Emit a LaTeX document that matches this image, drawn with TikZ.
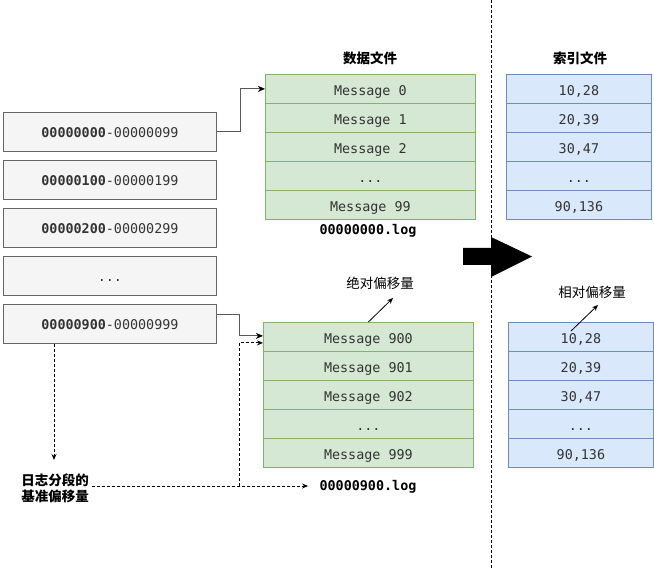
\documentclass[tikz,border=0pt]{standalone}
\usepackage{fontspec}
\setmonofont{DejaVu Sans Mono}
\newfontfamily\cjk{Noto Sans CJK SC}
\usepackage{xcolor}
\usetikzlibrary{arrows.meta,calc,positioning}
\definecolor{segfill}{HTML}{F5F5F5}
\definecolor{segdraw}{HTML}{666666}
\definecolor{grnfill}{HTML}{D5E8D4}
\definecolor{grndraw}{HTML}{82B366}
\definecolor{blufill}{HTML}{DAE8FC}
\definecolor{bludraw}{HTML}{6C8EBF}
\definecolor{txtgray}{HTML}{333333}
\newcommand\monofnt{\ttfamily\fontsize{13.4}{16}\selectfont}
\newcommand\cjkfnt{\cjk\fontsize{13.5}{17}\selectfont}
\newcommand\rowdots{...}

\begin{document}
\begin{tikzpicture}[x=1pt, y=-1pt,
	seg/.style={draw=segdraw, fill=segfill, line width=0.9pt, inner sep=0pt, text height=12pt, text depth=0pt, minimum width=213pt, minimum height=39pt, anchor=north west, text=txtgray, font=\monofnt},
	datarow/.style={draw=grndraw, fill=grnfill, line width=0.8pt, inner sep=0pt, text height=12.5pt, text depth=0pt, minimum width=210pt, minimum height=29pt, anchor=north west, text=txtgray, font=\monofnt},
	idxrow/.style={draw=bludraw, fill=blufill, line width=0.8pt, inner sep=0pt, text height=12.5pt, text depth=0pt, minimum width=145pt, minimum height=29pt, anchor=north west, text=txtgray, font=\monofnt},
	conn/.style={draw=black!65, line width=1.1pt, -{Stealth[length=7pt, width=6pt, inset=2pt, black]}},
	dconn/.style={black, line width=0.8pt, dash pattern=on 3pt off 2pt, -{Stealth[length=6pt, width=5pt, inset=2pt]}},
	lbl/.style={font=\cjkfnt, text=black}]
	\useasboundingbox (0,0) rectangle (654,569);
	%%%%% divider and big arrow
	\draw[black, line width=0.9pt, dash pattern=on 3pt off 2pt] (491,0) -- (491,569);
	\fill[black] (463,248) -- (491,248) -- (491,237) -- (532,256.5) -- (491,277) -- (491,265) -- (463,265) -- cycle;
	%%%%% segments
	\node[seg] (seg0) at (3,112) {\textbf{00000000}-00000099};
	\node[seg] (seg1) at (3,160) {\textbf{00000100}-00000199};
	\node[seg] (seg2) at (3,208) {\textbf{00000200}-00000299};
	\node[seg] (seg3) at (3,256) {...};
	\node[seg] (seg4) at (3,304) {\textbf{00000900}-00000999};
	%%%%% data and index files
	\node[lbl] (datatitle) at (370,58) {\textbf{数据文件}};
	\node[lbl] (idxtitle) at (580,58) {\textbf{索引文件}};
	\foreach \t [count=\i from 0] in {Message 0,Message 1,Message 2,\rowdots,Message 99}
		\node[datarow] (top\i) at (265,74+29*\i) {\t};
	\foreach \t [count=\i from 0] in {10{,}28,20{,}39,30{,}47,\rowdots,90{,}136}
		\node[idxrow] (topidx\i) at (506,74+29*\i) {\t};
	\node[font=\monofnt\bfseries, text=black] (log0) at (368,231) {00000000.log};
	\foreach \t [count=\i from 0] in {Message 900,Message 901,Message 902,\rowdots,Message 999}
		\node[datarow] (low\i) at (263,322+29*\i) {\t};
	\foreach \t [count=\i from 0] in {10{,}28,20{,}39,30{,}47,\rowdots,90{,}136}
		\node[idxrow] (lowidx\i) at (508,322+29*\i) {\t};
	\node[font=\monofnt\bfseries, text=black] (log1) at (368,487) {00000900.log};
	%%%%% offsets
	\node[lbl] (absoff) at (380,283) {绝对偏移量};
	\node[lbl] (reloff) at (592,292) {相对偏移量};
	\node[lbl, align=center] (base) at (55,488) {\textbf{日志分段的}\\[-1pt]\textbf{基准偏移量}};
	\coordinate (abstip) at (393,298);
	\coordinate (relfoot) at (571,331);
	\coordinate (reltip) at (598,305);
	\coordinate (basetip) at (54,460);
	\coordinate (join) at (239,486);
	\draw[-{Stealth[length=6pt, width=5pt]}, line width=0.8pt] (low0.north) -- (abstip);
	\draw[-{Stealth[length=6pt, width=5pt]}, line width=0.8pt] (relfoot) -- (reltip);
	%%%%% connectors
	\draw[conn] (seg0.east) -- ++(24,0) |- (top0.west);
	\draw[conn] ($(seg4.east)+(0,-9.5)$) -- ++(23,0) |- ($(low0.west)+(0,-1)$);
	\draw[dconn] ($(seg4.south west)+(51,0)$) -- (basetip);
	\draw[dconn] (base.east |- join) -- ([xshift=-8pt]log1.west |- join);
	\draw[dconn] (join) |- ($(low0.west)+(0,6)$);
\end{tikzpicture}
\end{document}
